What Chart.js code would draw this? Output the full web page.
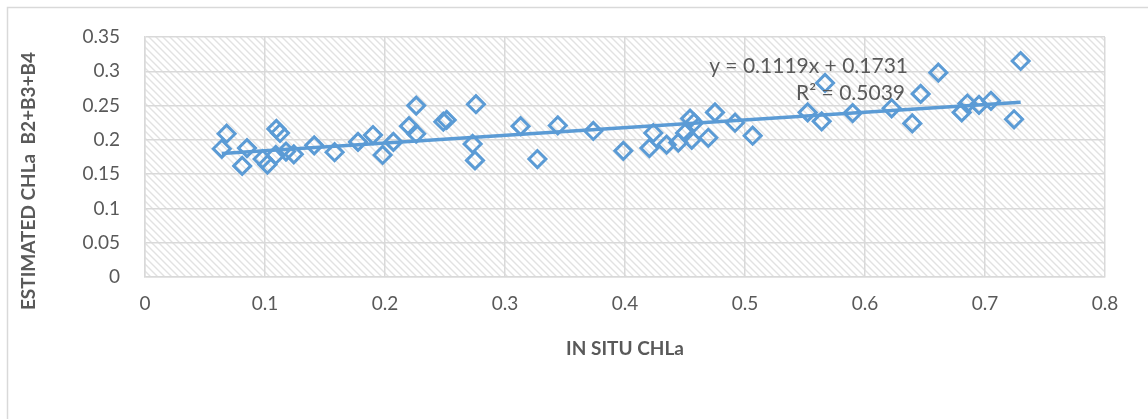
<!DOCTYPE html>
<html>
<head>
<meta charset="utf-8">
<script src="https://cdn.jsdelivr.net/npm/chart.js@4/dist/chart.umd.min.js"></script>
<style>
  html, body { margin: 0; padding: 0; background: #ffffff; }
  #wrap { width: 1148px; height: 419px; position: relative; }
</style>
</head>
<body>
<div id="wrap"><canvas id="c" width="1148" height="419"></canvas></div>
<script>
// In situ chlorophyll-a vs. value estimated from bands B2+B3+B4
const inSituChla = [
  0.064, 0.068, 0.081, 0.085, 0.098, 0.102, 0.1095, 0.1125, 0.109, 0.1175,
  0.124, 0.141, 0.158, 0.1775, 0.190, 0.198, 0.207, 0.220, 0.226, 0.226,
  0.2486, 0.2514, 0.2758, 0.273, 0.275, 0.313, 0.327, 0.344, 0.3736, 0.3986,
  0.4203, 0.4236, 0.4347, 0.4444, 0.450, 0.4556, 0.4542, 0.4575, 0.4694, 0.475,
  0.4917, 0.5064, 0.5522, 0.5639, 0.5667, 0.5897, 0.6222, 0.6394, 0.6464, 0.6611,
  0.6806, 0.6853, 0.695, 0.705, 0.7242, 0.7297
];
const estimatedChla = [
  0.187, 0.209, 0.162, 0.188, 0.172, 0.164, 0.216, 0.210, 0.178, 0.183,
  0.179, 0.192, 0.182, 0.197, 0.207, 0.178, 0.197, 0.220, 0.209, 0.250,
  0.2265, 0.229, 0.252, 0.194, 0.170, 0.220, 0.172, 0.221, 0.213, 0.184,
  0.188, 0.210, 0.193, 0.196, 0.210, 0.200, 0.231, 0.225, 0.203, 0.240,
  0.225, 0.206, 0.240, 0.227, 0.283, 0.239, 0.246, 0.224, 0.267, 0.298,
  0.240, 0.253, 0.251, 0.257, 0.230, 0.315
];
// Linear fit reported on the chart
const slope = 0.1119;
const intercept = 0.1731;
const rSquared = 0.5039;
const xTickValues = [0, 0.1, 0.2, 0.3, 0.4, 0.5, 0.6, 0.7, 0.8];
const yTickValues = [0, 0.05, 0.1, 0.15, 0.2, 0.25, 0.3, 0.35];

const blue = '#5B9BD5';
const grey = '#595959';
const gridGrey = '#d9d9d9';
const FONT = 'Lato, "Open Sans", "Liberation Sans", sans-serif';

const points = inSituChla.map((x, i) => ({ x: x, y: estimatedChla[i] }));
const xMin = Math.min(...inSituChla);
const xMax = Math.max(...inSituChla);
const trend = [xMin, xMax].map(x => ({ x: x, y: slope * x + intercept }));

// Diagonal hatch used as the plot-area fill
function makeHatch(ctx) {
  const n = 7;
  const t = document.createElement('canvas');
  t.width = n; t.height = n;
  const g = t.getContext('2d');
  g.strokeStyle = '#e2e2e2';
  g.lineWidth = 1.4;
  g.beginPath();
  for (let k = -1; k <= 1; k++) {
    g.moveTo(k * n - 1, -1);
    g.lineTo(k * n + n + 1, n + 1);
  }
  g.stroke();
  return ctx.createPattern(t, 'repeat');
}

const framePlugin = {
  id: 'frame',
  beforeDraw(chart) {
    const { ctx, chartArea: a } = chart;
    ctx.save();
    ctx.fillStyle = '#ffffff';
    ctx.fillRect(0, 0, chart.width, chart.height);
    // outer chart border
    ctx.strokeStyle = gridGrey;
    ctx.lineWidth = 1.5;
    ctx.beginPath();
    ctx.moveTo(7.5, chart.height + 2);
    ctx.lineTo(7.5, 7.5);
    ctx.lineTo(chart.width + 2, 7.5);
    ctx.stroke();
    ctx.fillStyle = makeHatch(ctx);
    ctx.fillRect(a.left, a.top, a.right - a.left, a.bottom - a.top);
    ctx.restore();
  },
  afterDraw(chart) {
    const { ctx } = chart;
    ctx.save();
    ctx.fillStyle = grey;
    // axis titles
    ctx.font = 'bold 19px ' + FONT;
    ctx.textAlign = 'center';
    ctx.textBaseline = 'middle';
    ctx.fillText('IN SITU CHLa', 625, 349);
    ctx.translate(29, 181);
    ctx.rotate(-Math.PI / 2);
    ctx.fillText('ESTIMATED CHLa  B2+B3+B4', 0, 0);
    ctx.restore();

    // regression label
    ctx.save();
    ctx.fillStyle = grey;
    ctx.font = '21px ' + FONT;
    ctx.textAlign = 'right';
    ctx.textBaseline = 'middle';
    ctx.fillText('y = ' + slope.toFixed(4) + 'x + ' + intercept.toFixed(4), 908, 66);
    ctx.fillText('R\u00B2 = ' + rSquared.toFixed(4), 905, 93);
    ctx.restore();
  }
};

new Chart(document.getElementById('c'), {
  type: 'scatter',
  data: {
    datasets: [
      {
        label: 'Linear (trend)',
        type: 'line',
        data: trend,
        borderColor: blue,
        borderWidth: 3.5,
        pointRadius: 0,
        fill: false,
        order: 2
      },
      {
        label: 'Estimated CHLa',
        data: points,
        pointStyle: 'rectRot',
        pointRadius: 8.5,
        pointHoverRadius: 8.5,
        borderColor: blue,
        backgroundColor: 'rgba(255,255,255,0)',
        pointBorderWidth: 3,
        order: 1
      }
    ]
  },
  options: {
    responsive: false,
    animation: false,
    devicePixelRatio: 1,
    layout: { padding: { left: 0, top: 37, right: 43, bottom: 0 } },
    plugins: {
      legend: { display: false },
      tooltip: { enabled: false }
    },
    scales: {
      x: {
        type: 'linear',
        min: 0, max: 0.8,
        afterFit(s) { s.height = 142; },
        afterBuildTicks(s) { s.ticks = xTickValues.map(v => ({ value: v })); },
        ticks: {
          color: grey,
          font: { family: FONT, size: 19 },
          padding: 15,
          maxRotation: 0,
          callback: v => String(v)
        },
        grid: { color: gridGrey, lineWidth: 1.5, drawTicks: false },
        border: { color: gridGrey, width: 1.5 }
      },
      y: {
        type: 'linear',
        min: 0, max: 0.35,
        afterFit(s) { s.width = 145; },
        afterBuildTicks(s) { s.ticks = yTickValues.map(v => ({ value: v })); },
        ticks: {
          color: grey,
          font: { family: FONT, size: 19 },
          padding: 25,
          callback: v => String(v)
        },
        grid: { color: gridGrey, lineWidth: 1.5, drawTicks: false },
        border: { color: gridGrey, width: 1.5 }
      }
    }
  },
  plugins: [framePlugin]
});
</script>
</body>
</html>
